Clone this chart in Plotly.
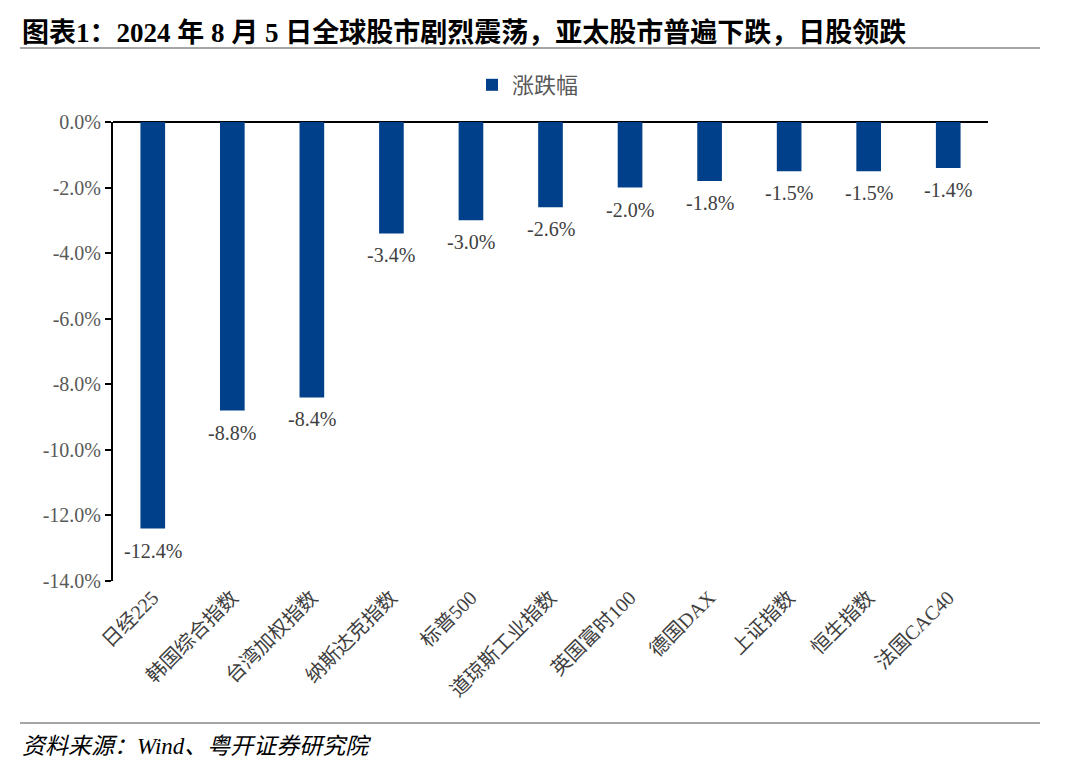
import plotly.graph_objects as go

categories = ["日经225", "韩国综合指数", "台湾加权指数", "纳斯达克指数", "标普500", "道琼斯工业指数",
              "英国富时100", "德国DAX", "上证指数", "恒生指数", "法国CAC40"]
values = [-12.4, -8.8, -8.4, -3.4, -3.0, -2.6, -2.0, -1.8, -1.5, -1.5, -1.4]
series_name = "涨跌幅"
tick_vals = [0, -2, -4, -6, -8, -10, -12, -14]
tick_text = ["0.0%", "-2.0%", "-4.0%", "-6.0%", "-8.0%", "-10.0%", "-12.0%", "-14.0%"]

serif = "'Times New Roman', 'Liberation Serif', 'Noto Sans CJK SC', serif"

# plot area in screen coords (page has 8px body margin)
PL, PR, PT, PB = 113, 988, 122, 581
PW, PH = PR - PL, PB - PT


def px(sx):
    return (sx - PL) / PW


def py(sy):
    return (PB - sy) / PH


fig = go.Figure()
fig.add_trace(go.Bar(
    x=categories, y=values, name=series_name,
    marker=dict(color="#00408A", line=dict(width=0)),
    cliponaxis=False,
))

for c, v in zip(categories, values):
    fig.add_annotation(x=c, y=v, xref="x", yref="y", text=f"{v:.1f}%",
                       showarrow=False, yanchor="middle", yshift=-22,
                       font=dict(family=serif, size=20, color="#404040"))

fig.update_layout(
    width=1080, height=779,
    paper_bgcolor="white", plot_bgcolor="white",
    margin=dict(l=PL - 8, r=1080 - (PR - 8), t=PT - 8, b=779 - (PB - 8), autoexpand=False),
    bargap=0.69,
    showlegend=True,
    legend=dict(orientation="h", x=px(472), xanchor="left", y=py(85), yanchor="middle",
                font=dict(family=serif, size=22, color="#595959"),
                itemwidth=30),
    font=dict(family=serif),
    xaxis=dict(showline=False, ticks="", tickangle=-45,
               tickfont=dict(family=serif, size=20, color="#404040"),
               showgrid=False),
    yaxis=dict(range=[-14, 0], tickvals=tick_vals, ticktext=tick_text,
               showline=True, linecolor="black", linewidth=2,
               ticks="outside", ticklen=6, tickcolor="black", tickwidth=2,
               tickfont=dict(family=serif, size=20, color="#595959"),
               showgrid=False, zeroline=True, zerolinecolor="black", zerolinewidth=2),
)

fig.add_annotation(text="<b>图表1：2024 年 8 月 5 日全球股市剧烈震荡，亚太股市普遍下跌，日股领跌</b>",
                   xref="paper", yref="paper", x=px(20), y=py(33),
                   xanchor="left", yanchor="middle", showarrow=False,
                   font=dict(family=serif, size=27, color="black"))
fig.add_annotation(text="<i>资料来源：Wind、粤开证券研究院</i>",
                   xref="paper", yref="paper", x=px(20), y=py(746),
                   xanchor="left", yanchor="middle", showarrow=False,
                   font=dict(family=serif, size=23, color="black"))
fig.add_shape(type="line", xref="paper", yref="paper",
              x0=px(20), x1=px(1040), y0=py(48), y1=py(48),
              line=dict(color="#A6A6A6", width=2))
fig.add_shape(type="line", xref="paper", yref="paper",
              x0=px(20), x1=px(1040), y0=py(723), y1=py(723),
              line=dict(color="#A6A6A6", width=2))

fig.write_html("out.html")
